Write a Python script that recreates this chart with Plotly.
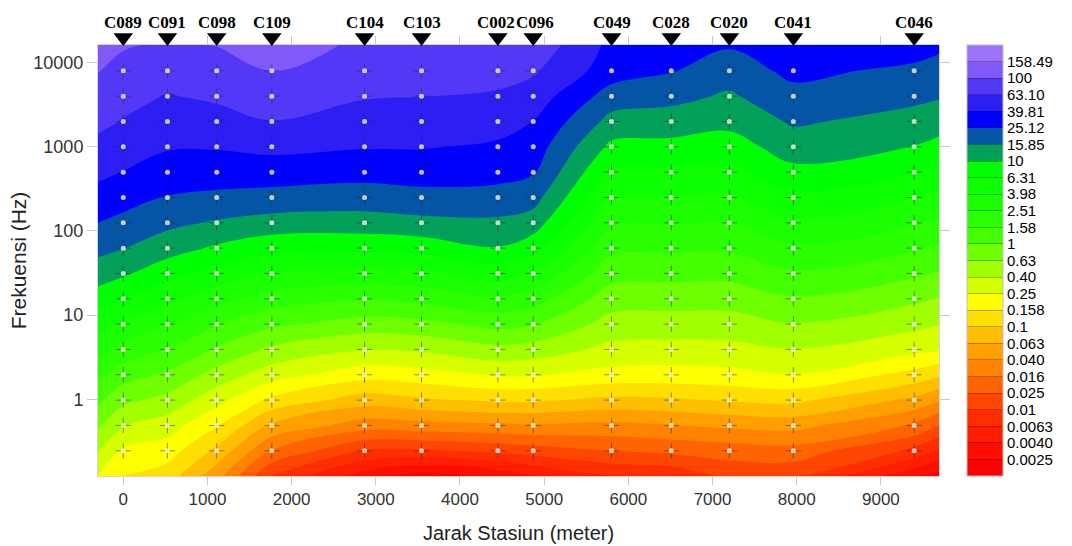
import numpy as np
import plotly.graph_objects as go

# ---------------- data ----------------
stations = ["C089", "C091", "C098", "C109", "C104", "C103", "C002", "C096",
            "C049", "C028", "C020", "C041", "C046"]
station_distance = [0, 525, 1110, 1765, 2866, 3543, 4450, 4870, 5800, 6510, 7200, 7960, 9395]
frequency = [8000, 4000, 2000, 1000, 500, 250, 125, 62.5, 31.25, 15.625, 7.8125,
             3.90625, 1.953125, 0.9765625, 0.48828125, 0.244140625]

# gridded surface: edge columns / rows of the gridded map plus the station grid
grid_distance = [-300] + station_distance + [9690]
grid_frequency = [16200] + frequency + [0.1225]

col_left = [2.09, 2.007, 1.926, 1.845, 1.751, 1.646, 1.53, 1.40, 1.257, 1.098, 0.909, 0.694, 0.478, 0.262, 0.047, -0.168, -0.384, -0.6]
col_C089 = [2.018, 1.94, 1.86, 1.79, 1.69, 1.595, 1.476, 1.345, 1.205, 1.03, 0.80, 0.57, 0.33, 0.09, -0.15, -0.39, -0.63, -0.82]
col_C091 = [1.975, 1.88, 1.79, 1.705, 1.618, 1.507, 1.388, 1.25, 1.084, 0.88, 0.65, 0.42, 0.193, -0.037, -0.266, -0.50, -0.705, -0.90]
col_C098 = [2.005, 1.914, 1.83, 1.729, 1.615, 1.494, 1.36, 1.178, 0.97, 0.72, 0.47, 0.22, -0.03, -0.28, -0.53, -0.786, -1.05, -1.33]
col_C109 = [2.08, 2.005, 1.90, 1.795, 1.648, 1.498, 1.33, 1.123, 0.86, 0.59, 0.31, 0.04, -0.24, -0.51, -0.85, -1.23, -1.61, -2.02]
col_C104 = [1.97, 1.905, 1.814, 1.716, 1.613, 1.468, 1.305, 1.114, 0.85, 0.54, 0.22, -0.09, -0.39, -0.72, -1.10, -1.50, -2.01, -2.5]
col_C103 = [1.97, 1.895, 1.803, 1.709, 1.612, 1.485, 1.337, 1.144, 0.88, 0.57, 0.26, -0.06, -0.37, -0.68, -1.03, -1.47, -2.03, -2.7]
col_C002 = [1.95, 1.87, 1.776, 1.676, 1.571, 1.463, 1.33, 1.16, 0.99, 0.685, 0.37, 0.06, -0.26, -0.575, -0.97, -1.44, -1.95, -2.55]
col_C096 = [1.94, 1.826, 1.711, 1.596, 1.505, 1.417, 1.276, 1.105, 0.871, 0.58, 0.29, 0.01, -0.29, -0.58, -0.97, -1.42, -1.9, -2.4]
col_C049 = [1.55, 1.50, 1.31, 1.134, 0.953, 0.777, 0.61, 0.425, 0.248, 0.072, -0.105, -0.28, -0.456, -0.67, -1.05, -1.45, -1.8, -2.2]
col_C028 = [1.52, 1.41, 1.26, 1.11, 0.94, 0.765, 0.59, 0.41, 0.235, 0.06, -0.116, -0.29, -0.47, -0.68, -1.03, -1.41, -1.75, -2.15]
col_C020 = [1.42, 1.295, 1.172, 1.057, 0.91, 0.74, 0.57, 0.39, 0.23, 0.055, -0.115, -0.29, -0.46, -0.66, -0.98, -1.36, -1.71, -1.95]
col_C041 = [1.56, 1.45, 1.34, 1.226, 1.096, 0.947, 0.754, 0.56, 0.368, 0.175, -0.018, -0.21, -0.405, -0.605, -0.95, -1.33, -1.68, -1.95]
col_C046 = [1.5, 1.354, 1.246, 1.129, 0.995, 0.807, 0.614, 0.42, 0.228, 0.035, -0.158, -0.35, -0.544, -0.87, -1.25, -1.63, -2.05, -2.55]
col_right = [1.44, 1.325, 1.217, 1.09, 0.937, 0.747, 0.557, 0.367, 0.177, -0.013, -0.21, -0.39, -0.58, -0.97, -1.38, -1.81, -2.22, -2.7]

columns = [col_left, col_C089, col_C091, col_C098, col_C109, col_C104, col_C103, col_C002,
           col_C096, col_C049, col_C028, col_C020, col_C041, col_C046, col_right]

# contour levels (log10) and their legend labels, bottom -> top
level_start, level_end, level_step = -2.6, 2.2, 0.2
level_labels = ["0.0025", "0.0040", "0.0063", "0.01", "0.025", "0.016", "0.040", "0.063",
                "0.1", "0.158", "0.25", "0.40", "0.63", "1", "1.58", "2.51", "3.98", "6.31",
                "10", "15.85", "25.12", "39.81", "63.10", "100", "158.49"]

# band colours, bottom (lowest) -> top (highest)
band_colors = ["#ff0000", "#ff0e00", "#ff1e00", "#ff2e00", "#ff4600", "#ff6400", "#ff8200",
               "#ffa000", "#ffbf00", "#ffdf00", "#ffff00", "#d6ff00", "#a2ff00", "#6eff00",
               "#44ff00", "#2cff00", "#1cff00", "#0dff00", "#00ff00", "#03a05a", "#0455a5",
               "#0000ff", "#2d1ef4", "#5438f7", "#8159f9", "#9d72fb"]

# ---------------- build ----------------
z_top_down = np.array(columns).T            # rows: top -> bottom
z = z_top_down[::-1]
y_grid = grid_frequency[::-1]

n = len(band_colors)
cs_contour = []
for k, c in enumerate(band_colors):
    lo = max(0.0, (k - 0.5) / (n - 1))
    hi = min(1.0, (k + 0.5) / (n - 1))
    cs_contour += [[lo, c], [hi, c]]

cs_bar = []
for k, c in enumerate(band_colors):
    cs_bar += [[k / n, c], [(k + 1) / n, c]]

tickvals_bar = [round(level_start + i * level_step, 4) for i in range(len(level_labels))]

W, H = 1072, 546
M_L, M_R, M_B = 98, 133, 70
PLOT_TOP = 45                      # px from top where the map starts
plot_h = H - M_B - PLOT_TOP
plot_w = W - M_L - M_R
main_frac = plot_h / (H - M_B)     # main subplot share of the vertical paper space

xr = [-300, 9690]
yr = [-0.912, 4.21]

fig = go.Figure()

# holder for the stepped colour legend (transparent surface)
fig.add_trace(go.Heatmap(
    x=grid_distance, y=y_grid, z=z, zmin=level_start - level_step, zmax=level_end + level_step,
    colorscale=cs_bar, opacity=0, hoverinfo="skip", showscale=True,
    colorbar=dict(
        x=(967 - M_L) / plot_w, xanchor="left", y=0, yanchor="bottom",
        len=main_frac, lenmode="fraction",
        thickness=36, thicknessmode="pixels", xpad=0, ypad=0,
        outlinewidth=1, outlinecolor="#bdbdbd",
        tickmode="array", tickvals=tickvals_bar, ticktext=level_labels,
        ticks="inside", ticklen=36, tickwidth=1, tickcolor="rgba(0,0,0,0.28)",
        tickfont=dict(family="Liberation Sans, Arial, sans-serif", size=15, color="#000"),
    ),
))

fig.add_trace(go.Contour(
    x=grid_distance, y=y_grid, z=z, colorscale=cs_contour, autocontour=False,
    contours=dict(start=level_start, end=level_end, size=level_step,
                  coloring="fill", showlines=False),
    line=dict(smoothing=1.1, width=0), showscale=False, hoverinfo="skip",
))

gx, gy = np.meshgrid(station_distance, frequency)
fig.add_trace(go.Scatter(
    x=gx.ravel(), y=gy.ravel(), mode="markers", hoverinfo="skip",
    marker=dict(symbol="cross-thin-open", size=11, color="rgba(40,40,40,0.5)",
                line=dict(color="rgba(40,40,40,0.5)", width=1)),
))
fig.add_trace(go.Scatter(
    x=gx.ravel(), y=gy.ravel(), mode="markers", hoverinfo="skip",
    marker=dict(symbol="circle", size=5, color="rgba(255,255,255,0.75)", line=dict(width=0)),
))

# station markers in a strip above the map (y2 spans the 45 px strip, 0..1)
tri_pos = (PLOT_TOP - 37.5) / PLOT_TOP
lab_pos = (PLOT_TOP - 22) / PLOT_TOP
fig.add_trace(go.Scatter(
    x=station_distance, y=[tri_pos] * len(stations), xaxis="x", yaxis="y2",
    mode="markers", cliponaxis=False, hoverinfo="skip",
    marker=dict(symbol="triangle-down", size=17, color="black"),
))

# station names; labels closer than their width are nudged apart slightly
lab_size = 17
lab_w = (0.722 + 3 * 0.5) * lab_size + 1
px_per_m = plot_w / (xr[1] - xr[0])
shifts = [0.0] * len(stations)
for i in range(len(stations) - 1):
    gap = (station_distance[i + 1] - station_distance[i]) * px_per_m
    if gap < lab_w:
        d = (lab_w - gap) / 2
        shifts[i] -= d
        shifts[i + 1] += d
for name, xd, sh in zip(stations, station_distance, shifts):
    fig.add_annotation(
        x=xd, y=lab_pos, xref="x", yref="y2", text=name, showarrow=False,
        xshift=sh, xanchor="center", yanchor="middle",
        font=dict(family="Liberation Serif, Times New Roman, serif", size=lab_size,
                  color="black", weight="bold"),
    )

axis_common = dict(showgrid=False, zeroline=False, showline=True, linecolor="#d4d4d4",
                   linewidth=1, mirror="ticks", ticks="outside", tickcolor="#c8c8c8",
                   tickwidth=1)

fig.update_layout(
    width=W, height=H, margin=dict(l=M_L, r=M_R, t=0, b=M_B, autoexpand=False),
    paper_bgcolor="white", plot_bgcolor="white", showlegend=False,
    xaxis=dict(range=xr, tickmode="array", anchor="y",
               tickvals=list(range(0, 9001, 1000)), ticklen=8,
               tickfont=dict(family="Liberation Sans Narrow, Arial Narrow, Liberation Sans, sans-serif",
                             size=17, color="#333"),
               title=dict(text="Jarak Stasiun (meter)", standoff=17,
                          font=dict(family="Liberation Sans, Arial, sans-serif", size=20, color="#222")),
               **axis_common),
    yaxis=dict(type="log", range=yr, tickmode="array", domain=[0, main_frac], anchor="x",
               tickvals=[1, 10, 100, 1000, 10000], ticktext=["1", "10", "100", "1000", "10000"],
               ticklen=10,
               tickfont=dict(family="Liberation Sans, Arial, sans-serif", size=18, color="#333"),
               title=dict(text="Frekuensi (Hz)", standoff=0,
                          font=dict(family="Liberation Sans, Arial, sans-serif", size=21, color="#222")),
               **axis_common),
    yaxis2=dict(domain=[main_frac, 1], range=[0, 1], anchor="x", visible=False, fixedrange=True),
)

fig.write_html("out.html")
